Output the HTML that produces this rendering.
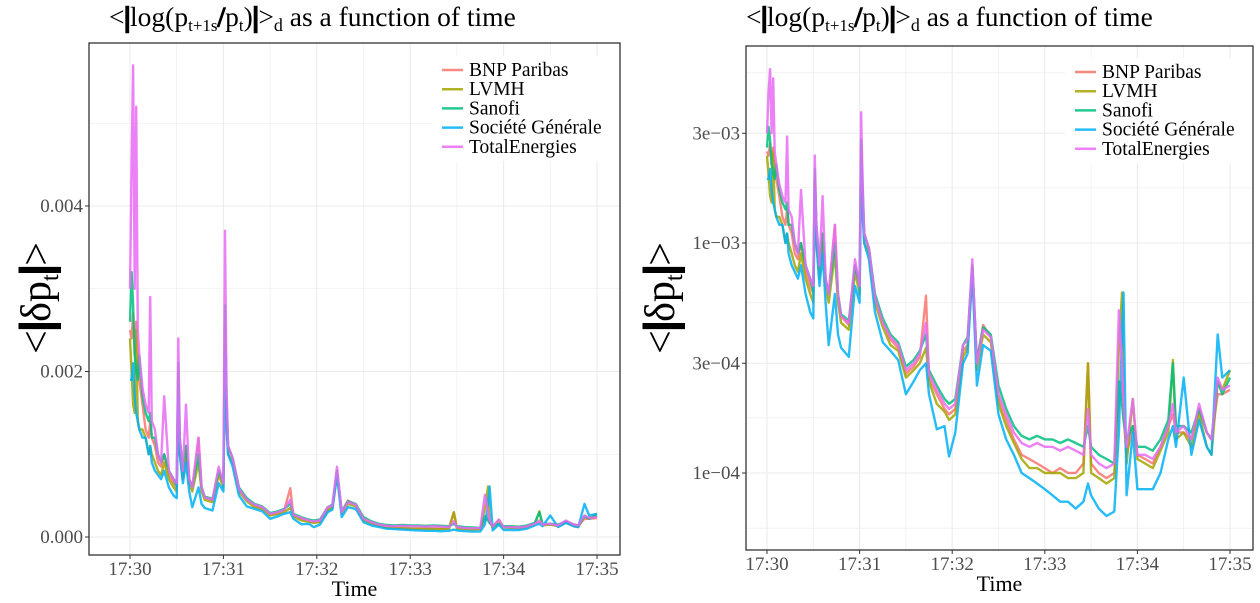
<!DOCTYPE html>
<html><head><meta charset="utf-8"><style>
html,body{margin:0;padding:0;background:#fff}
svg{display:block;font-family:"Liberation Serif",serif}
</style></head><body>
<svg id="c" width="1260" height="603" viewBox="0 0 1260 603"></svg>
<script>
const times=[0,1,2,3,4,5,6,8,10,12,13,14,16,18,20,22,25,28,30,31,32,34,36,38,40,44,46,48,53,57,60,61,62,63,66,70,75,80,85,90,95,99,103,105,110,115,118,122,127,130,133,136,140,145,150,155,160,165,170,175,180,185,190,195,200,205,208,210,215,220,225,228,230,231,233,237,240,245,250,255,260,263,265,270,275,280,285,288,292,295,300];
const seriesNames=["BNP Paribas","LVMH","Sanofi","Société Générale","TotalEnergies"];
const seriesColors=["#F8766D","#A3A500","#00BF7D","#00B0F6","#E76BF3"];
// values in units of 1e-4
const bnp=[25,24,27,22,26,21,19,16,13,12,14,12,11,9,8.5,10,7.5,6.5,6,20,11,7.5,11,7,6,12,6,4.8,4.4,8,6.5,26,16,11,9.5,5.8,4.5,3.8,3.5,2.7,2.9,3.2,5.9,2.6,2.2,1.9,1.8,1.9,3.4,3.6,8,3.0,4.4,3.9,2.1,1.7,1.4,1.2,1.15,1.1,1.05,1.0,1.05,1.0,1.0,1.1,3.0,1.1,1.0,0.95,1.0,2.0,2.5,1.8,1.2,1.6,1.2,1.15,1.1,1.3,1.6,1.8,1.5,1.5,1.4,1.9,1.5,1.4,2.2,2.2,2.3];
const lvmh=[24,20,16,15,25,14,13,13,12,10,11,10,9,8,7.5,9,7,6,5.5,19,10,7,10,6.5,5.5,9,5.5,4.5,4.2,7.5,6,23,15,10,9,5.5,4.3,3.6,3.4,2.6,2.8,3.0,3.5,2.5,2.0,1.85,1.7,1.8,3.2,3.5,7.5,2.8,4.0,3.7,2.0,1.6,1.35,1.15,1.05,1.05,1.0,1.0,1.0,0.95,0.95,1.0,3.0,1.0,0.95,0.9,0.95,3.5,6.1,2.0,1.1,2.1,1.15,1.1,1.05,1.25,1.5,3.1,1.4,1.5,1.3,1.8,1.3,1.2,2.5,2.3,2.8];
const sanofi=[26,32,28,22,20,19,22,17,15,14,15,12,12,10,9,10,8,7,6.2,21,12,8,11,7,6,10,6,4.9,4.6,8,6.5,28,17,11,9.5,6,4.7,4.0,3.7,2.9,3.1,3.4,4.0,2.8,2.4,2.1,2.0,2.1,3.6,3.9,8,3.1,4.3,4.0,2.4,1.9,1.6,1.45,1.4,1.45,1.4,1.4,1.35,1.4,1.35,1.3,1.6,1.3,1.2,1.15,1.1,2.5,2.0,1.7,1.4,1.6,1.3,1.3,1.25,1.4,1.7,3.0,1.6,1.6,1.5,1.9,1.5,1.4,2.5,2.2,2.6];
const socgen=[19,19,21,17,15,14,13,12,12,10,11,9,8,7.5,7,8,6,5,4.7,17,10,6.5,9,5.5,3.6,6,4,3.5,3.2,6.5,5.5,22,13,10,8.5,5,3.7,3.4,3.1,2.2,2.5,2.8,3.0,2.2,1.55,1.6,1.18,1.5,3.0,3.3,7.5,2.4,3.6,3.4,1.8,1.4,1.2,1.0,0.95,0.9,0.85,0.8,0.75,0.75,0.7,0.75,0.9,0.8,0.7,0.65,0.68,1.5,4,6.1,0.8,1.5,0.85,0.85,0.85,1.0,1.4,1.6,1.3,2.6,1.2,1.7,1.3,1.2,4.0,2.6,2.8];
const total=[30,45,57,30,52,25,22,18,16,15,29,14,13,10,9,17,8,7,6.5,24,12,8,16,7,6,12,6,4.8,4.5,8.5,6.5,37,18,11,9.5,5.8,4.5,3.9,3.6,2.8,3.0,3.3,4.5,2.7,2.3,2.0,1.9,2.0,3.6,3.8,8.5,3.0,4.2,3.9,2.2,1.8,1.5,1.35,1.3,1.35,1.3,1.3,1.25,1.3,1.25,1.2,1.9,1.2,1.1,1.05,1.1,5.1,3.0,2.0,1.3,2.1,1.2,1.2,1.15,1.3,1.6,2.0,1.5,1.6,1.4,2.0,1.5,1.4,2.6,2.3,2.4];
const xTickLabels=["17:30","17:31","17:32","17:33","17:34","17:35"];
const leftYTicks=[0,0.002,0.004];
const leftYTickLabels=["0.000","0.002","0.004"];
const rightYTicks=[1e-4,3e-4,1e-3,3e-3];
const rightYTickLabels=["1e\u221204","3e\u221204","1e\u221203","3e\u221203"];
const allSeries=[bnp,lvmh,sanofi,socgen,total];

const NS="http://www.w3.org/2000/svg";
const svg=document.getElementById('c');
function mk(tag,attrs,parent,text){const e=document.createElementNS(NS,tag);for(const k in attrs)e.setAttribute(k,attrs[k]);if(text!==undefined)e.textContent=text;(parent||svg).appendChild(e);return e;}

function panel(cfg){
  const g=mk('g',{});
  
  
  const {L,R,T,B,x0,x1}=cfg;
  const xs=t=>x0+(x1-x0)*t/300;
  const ys=cfg.ys;
  for(let s=0;s<=300;s+=30){const x=xs(s);if(x>L&&x<R){const ln=mk('line',{x1:x,x2:x,y1:T,y2:B,stroke:'#ebebeb','stroke-width':s%60?0.6:1.1},g);
    
    }}
  cfg.hgrid.forEach((v,i)=>{const y=ys(v);const ln=mk('line',{x1:L,x2:R,y1:y,y2:y,stroke:'#ebebeb','stroke-width':cfg.hgridMajor[i]?1.1:0.6},g);
    
    });
  allSeries.forEach((arr,si)=>{
    const d=arr.map((v,i)=>(i?'L':'M')+xs(times[i]).toFixed(1)+','+ys(v*1e-4).toFixed(1)).join('');
    const p=mk('path',{d:d,fill:'none',stroke:seriesColors[si],'stroke-width':2.4,'stroke-opacity':0.85,'stroke-linejoin':'round'},g);
    
    
  });
  const lg=mk('g',{},g);
  
  
  mk('rect',{x:cfg.legX-10,y:cfg.legY-14,width:Math.min(190,R-cfg.legX+9),height:105,fill:'#fff'},lg);
  seriesNames.forEach((n,i)=>{
    const y=cfg.legY+i*19.2;
    const e=mk('g',{},lg);
    
    
    mk('line',{x1:cfg.legX,x2:cfg.legX+21,y1:y,y2:y,stroke:seriesColors[i],'stroke-width':2.5,'stroke-opacity':0.85},e);
    mk('text',{x:cfg.legX+27,y:y+6,'font-size':19.5,fill:'#000'},e,n);
  });
  const bd=mk('rect',{x:L,y:T,width:R-L,height:B-T,fill:'none',stroke:'#333','stroke-width':1.3},g);
  
  
  xTickLabels.forEach((lab,i)=>{const x=xs(i*60);
    mk('line',{x1:x,x2:x,y1:B,y2:B+4,stroke:'#333','stroke-width':1},g);
    const t=mk('text',{x:x,y:B+20,'font-size':19,fill:'#4d4d4d','text-anchor':'middle'},g,lab);
    
    });
  cfg.yTicks.forEach((v,i)=>{const y=ys(v);
    mk('line',{x1:L-4,x2:L,y1:y,y2:y,stroke:'#333','stroke-width':1},g);
    const t=mk('text',{x:L-6,y:y+6,'font-size':19,fill:'#4d4d4d','text-anchor':'end'},g,cfg.yLabels[i]);
    
    });
  const xt=mk('text',{x:(L+R)/2,y:B+41,'font-size':22,'text-anchor':'middle',fill:'#000'},g,'Time');
  
  
  const yt=mk('text',{transform:`translate(${cfg.ytX},${cfg.ytY}) rotate(-90)`,'font-size':42,'text-anchor':'middle',fill:'#000'},g);
  
  
  yt.innerHTML='&lt;<tspan stroke="#000" stroke-width="4">|</tspan>δp<tspan font-size="25" dy="8">t</tspan><tspan dy="-8" stroke="#000" stroke-width="4">|</tspan>&gt;';
  const tt=mk('text',{x:cfg.tX,y:26,'font-size':27.5,fill:'#000'},g);
  
  
  tt.innerHTML='&lt;<tspan stroke="#000" stroke-width="2.5">|</tspan>log(p<tspan font-size="17" dy="5">t+1s</tspan><tspan dy="-5" stroke="#000" stroke-width="1.5">/</tspan>p<tspan font-size="17" dy="5">t</tspan><tspan dy="-5">)</tspan><tspan stroke="#000" stroke-width="2.5">|</tspan>&gt;<tspan font-size="18" dy="5">d</tspan><tspan dy="-5"> as a function of time</tspan>';
}

panel({name:'left-panel-linear',L:89,R:620,T:43,B:555,x0:130,x1:597,
  ys:v=>537-v*82750,
  hgrid:[0,0.001,0.002,0.003,0.004,0.005],hgridMajor:[1,0,1,0,1,0],
  yTicks:leftYTicks,yLabels:leftYTickLabels,legX:442,legY:70,ytX:50,ytY:298,tX:109});
panel({name:'right-panel-log',L:746,R:1253,T:46,B:550,x0:767,x1:1230,
  ys:v=>473-230*(Math.log10(v)+4),
  hgrid:[Math.pow(10,-4.24),1e-4,Math.pow(10,-3.76),3e-4,Math.pow(10,-3.26),1e-3,Math.pow(10,-2.76),3e-3,Math.pow(10,-2.26)],
  hgridMajor:[0,1,0,1,0,1,0,1,0],
  yTicks:rightYTicks,yLabels:rightYTickLabels,legX:1075,legY:72,ytX:674,ytY:298,tX:746});
</script>
</body></html>
